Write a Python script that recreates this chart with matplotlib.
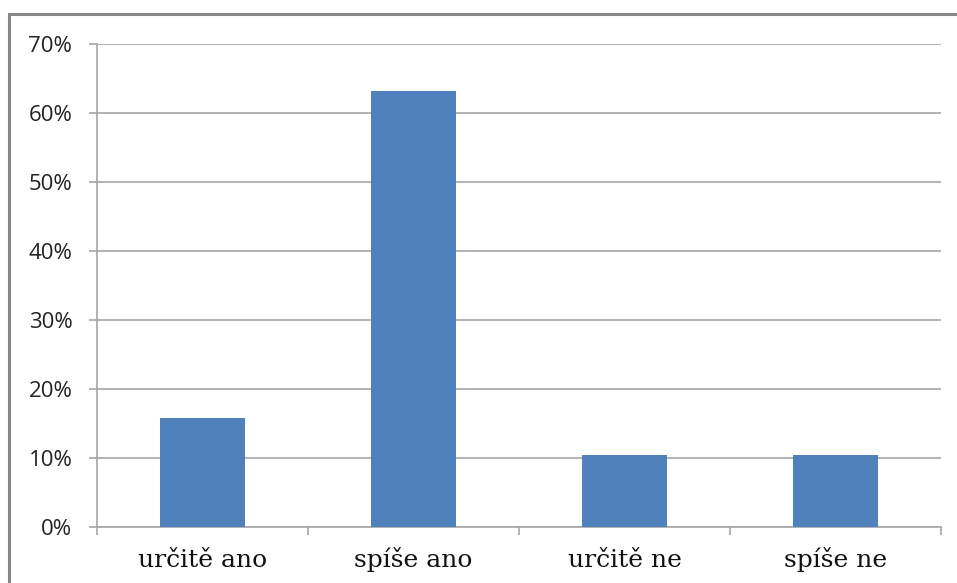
import matplotlib
matplotlib.use('Agg')
import matplotlib.pyplot as plt
from matplotlib.patches import Rectangle
from matplotlib.ticker import PercentFormatter, FixedLocator, NullFormatter

# survey answers and shares (percent)
categories = ['určitě ano', 'spíše ano', 'určitě ne', 'spíše ne']
shares = [15.8, 63.2, 10.5, 10.5]
yticks = [0, 10, 20, 30, 40, 50, 60, 70]

bar_color = '#4F81BD'
grid_color = '#A6A6A6'

fig = plt.figure(figsize=(9.57, 5.83), dpi=100)
ax = fig.add_axes([0.1014, 0.0961, 0.882, 0.8285])

x = list(range(len(categories)))
ax.bar(x, shares, width=0.4, color=bar_color, zorder=3)

ax.set_xlim(-0.5, len(categories) - 0.5)
ax.set_ylim(0, 70)
ax.set_yticks(yticks)
ax.yaxis.set_major_formatter(PercentFormatter(decimals=0))
ax.grid(axis='y', color=grid_color, linewidth=1.2, zorder=0)

# category labels centered, tick marks on the category boundaries
ax.xaxis.set_major_locator(FixedLocator([i - 0.5 for i in range(len(categories) + 1)]))
ax.xaxis.set_major_formatter(NullFormatter())
ax.xaxis.set_minor_locator(FixedLocator(x))
ax.set_xticklabels(categories, minor=True)
ax.tick_params(axis='x', which='minor', length=0, pad=28.8,
               labelsize=18, labelfontfamily='DejaVu Serif', labelcolor='#111111')
for lab in ax.get_xticklabels(minor=True):
    lab.set_verticalalignment('baseline')
ax.tick_params(axis='x', which='major', length=5.8, color=grid_color, width=1.2)
ax.tick_params(axis='y', length=5.8, color=grid_color, width=1.2, pad=12,
               labelsize=16, labelcolor='#222222')
for lab in ax.get_yticklabels():
    lab.set_fontfamily('Open Sans')

for side in ['top', 'right']:
    ax.spines[side].set_visible(False)
for side in ['left', 'bottom']:
    ax.spines[side].set_color(grid_color)
    ax.spines[side].set_linewidth(1.2)

# outer chart frame
fig.patches.append(Rectangle((0.0094, -0.1), 1.2, 1.076, transform=fig.transFigure,
                             fill=False, edgecolor='#878787', linewidth=2.2))

fig.savefig('out.png', dpi=100)
